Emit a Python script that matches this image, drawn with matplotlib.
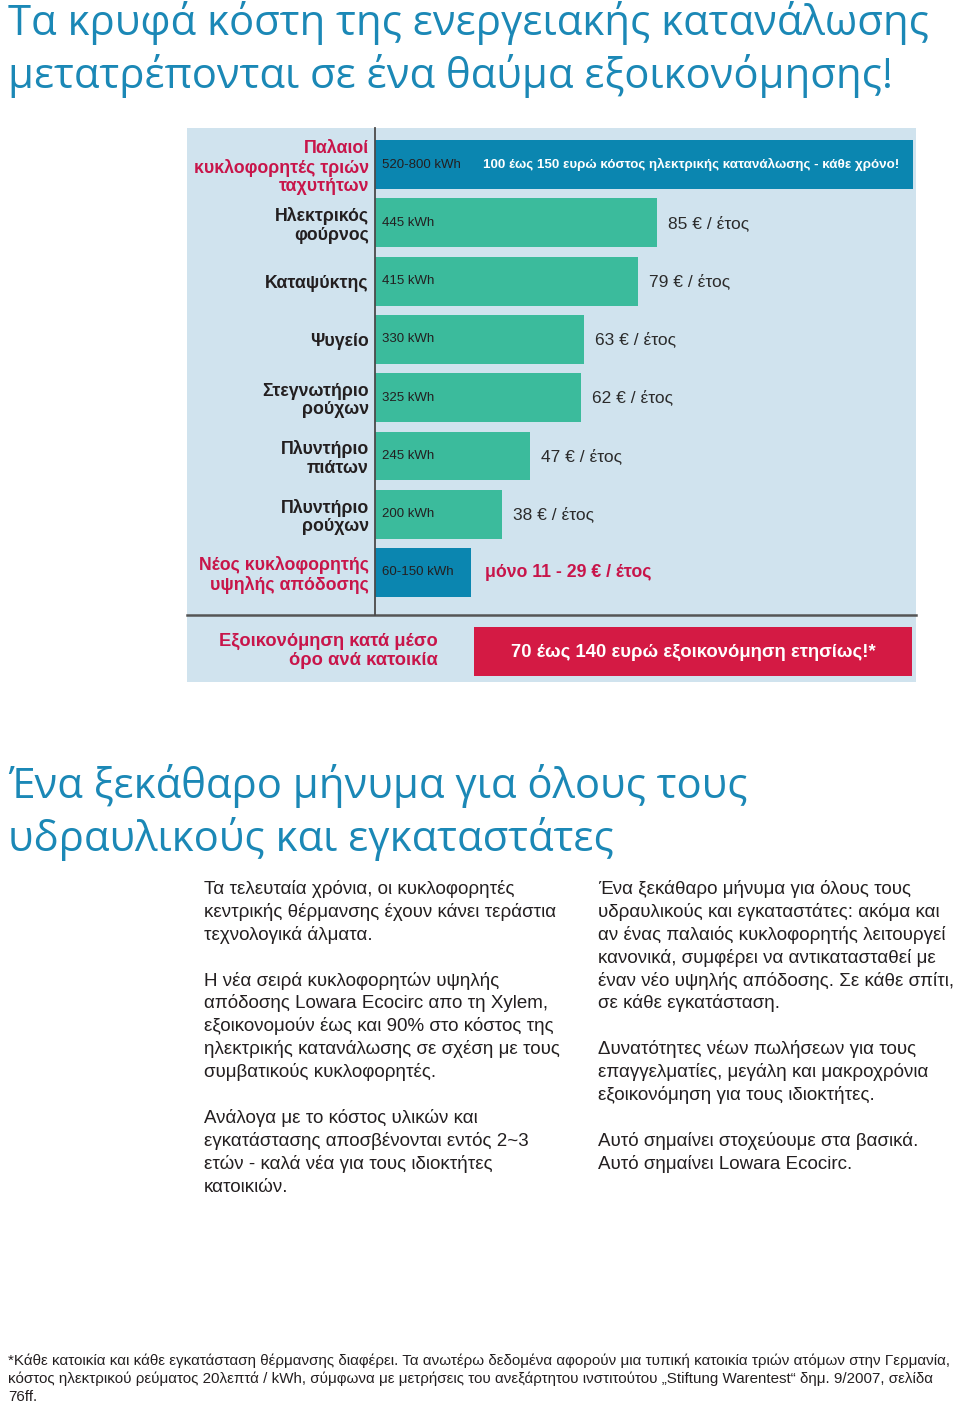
import matplotlib.pyplot as plt
from matplotlib.patches import Rectangle

# ---------------- data ----------------
appliances = ['Παλαιοί\nκυκλοφορητές τριών\nταχυτήτων', 'Ηλεκτρικός\nφούρνος', 'Καταψύκτης',
              'Ψυγείο', 'Στεγνωτήριο\nρούχων', 'Πλυντήριο\nπιάτων', 'Πλυντήριο\nρούχων',
              'Νέος κυκλοφορητής\nυψηλής απόδοσης']
kwh = [850, 445, 415, 330, 325, 245, 200, 152]
kwh_labels = ['520-800 kWh', '445 kWh', '415 kWh', '330 kWh', '325 kWh', '245 kWh',
              '200 kWh', '60-150 kWh']
cost_labels = ['100 έως 150 ευρώ κόστος ηλεκτρικής κατανάλωσης - κάθε χρόνο!',
               '85 € / έτος', '79 € / έτος', '63 € / έτος', '62 € / έτος',
               '47 € / έτος', '38 € / έτος', 'μόνο 11 - 29 € / έτος']
is_pump = [True, False, False, False, False, False, False, True]

savings_label = 'Εξοικονόμηση κατά μέσο\nόρο ανά κατοικία'
savings_box = '70 έως 140 ευρώ εξοικονόμηση ετησίως!*'

title = ['Τα κρυφά κόστη της ενεργειακής κατανάλωσης',
         'μετατρέπονται σε ένα θαύμα εξοικονόμησης!']
heading = ['Ένα ξεκάθαρο μήνυμα για όλους τους', 'υδραυλικούς και εγκαταστάτες']

col_left = ['Τα τελευταία χρόνια, οι κυκλοφορητές',
            'κεντρικής θέρμανσης έχουν κάνει τεράστια',
            'τεχνολογικά άλματα.',
            '',
            'Η νέα σειρά κυκλοφορητών υψηλής',
            'απόδοσης Lowara Ecocirc απο τη Xylem,',
            'εξοικονομούν έως και 90% στο κόστος της',
            'ηλεκτρικής κατανάλωσης σε σχέση με τους',
            'συμβατικούς κυκλοφορητές.',
            '',
            'Ανάλογα με το κόστος υλικών και',
            'εγκατάστασης αποσβένονται εντός 2~3',
            'ετών - καλά νέα για τους ιδιοκτήτες',
            'κατοικιών.']
col_right = ['Ένα ξεκάθαρο μήνυμα για όλους τους',
             'υδραυλικούς και εγκαταστάτες: ακόμα και',
             'αν ένας παλαιός κυκλοφορητής λειτουργεί',
             'κανονικά, συμφέρει να αντικατασταθεί με',
             'έναν νέο υψηλής απόδοσης. Σε κάθε σπίτι,',
             'σε κάθε εγκατάσταση.',
             '',
             'Δυνατότητες νέων πωλήσεων για τους',
             'επαγγελματίες, μεγάλη και μακροχρόνια',
             'εξοικονόμηση για τους ιδιοκτήτες.',
             '',
             'Αυτό σημαίνει στοχεύουμε στα βασικά.',
             'Αυτό σημαίνει Lowara Ecocirc.']
footnote = ['*Κάθε κατοικία και κάθε εγκατάσταση θέρμανσης διαφέρει. Τα ανωτέρω δεδομένα αφορούν μια τυπική κατοικία τριών ατόμων στην Γερμανία,',
            'κόστος ηλεκτρικού ρεύματος 20λεπτά / kWh, σύμφωνα με μετρήσεις του ανεξάρτητου ινστιτούτου „Stiftung Warentest“ δημ. 9/2007, σελίδα',
            '76ff.']

# ---------------- colours ----------------
teal = '#3bbb9c'
blue = '#0b86b0'
crimson = '#c8154a'
red_box = '#d41a44'
panel = '#d0e3ee'
title_blue = '#1b88b6'
dark = '#231f20'

plt.rcParams['font.family'] = ['Liberation Sans', 'DejaVu Sans']

fig = plt.figure(figsize=(9.6, 14.05), dpi=100)

# background axes in pixel coordinates
bg = fig.add_axes([0, 0, 1, 1])
bg.set_xlim(0, 960)
bg.set_ylim(1405, 0)
bg.axis('off')

bg.add_patch(Rectangle((187, 128), 729, 554, facecolor=panel, edgecolor='none'))
bg.plot([187, 916], [615, 615], color='#555555', lw=1.8)
bg.add_patch(Rectangle((474, 627), 438, 49, facecolor=red_box, edgecolor='none'))
bg.text(693, 652, savings_box, color='white', fontsize=13.3, fontweight='bold',
        ha='center', va='center')
bg.text(438, 651, savings_label, color=crimson, fontsize=13.2, fontweight='bold',
        ha='right', va='center', multialignment='right', linespacing=1.12)

for i, line in enumerate(title):
    bg.text(8, 35 + i * 53, line, color=title_blue, fontsize=30.2,
            family=['Open Sans', 'DejaVu Sans'], ha='left', va='baseline')
for i, line in enumerate(heading):
    bg.text(8, 798 + i * 53, line, color=title_blue, fontsize=30.2,
            family=['Open Sans', 'DejaVu Sans'], ha='left', va='baseline')

for i, line in enumerate(col_left):
    bg.text(204, 894 + i * 22.9, line, color=dark, fontsize=13.5, va='baseline')
for i, line in enumerate(col_right):
    bg.text(598, 894 + i * 22.9, line, color=dark, fontsize=13.5, va='baseline')
for i, line in enumerate(footnote):
    bg.text(8, 1365 + i * 18, line, color=dark, fontsize=10.9, va='baseline')

# bar chart axes
ax = fig.add_axes([375 / 960, 1 - 615 / 1405, 541 / 960, 487 / 1405])
ax.set_facecolor('none')
rows = list(range(len(appliances)))
colors = [blue if p else teal for p in is_pump]
ax.barh(rows, kwh, height=0.84, color=colors)
ax.set_xlim(0, 855)
ax.set_ylim(7.73, -0.63)

for s in ['top', 'right', 'bottom']:
    ax.spines[s].set_visible(False)
ax.spines['left'].set_color('#4a4a4a')
ax.spines['left'].set_linewidth(1.3)
ax.set_xticks([])
ax.set_yticks(rows)
ax.set_yticklabels(appliances, fontsize=12.8, fontweight='bold')
ax.tick_params(axis='y', length=0, pad=4.5)
for lbl, p in zip(ax.get_yticklabels(), is_pump):
    lbl.set_color(crimson if p else dark)
    lbl.set_multialignment('right')
    lbl.set_linespacing(1.12)

for i in rows:
    ax.annotate(kwh_labels[i], xy=(0, i), xytext=(5, 0), textcoords='offset points',
                ha='left', va='center', fontsize=9.5, color=dark)
    if i == 0:
        ax.annotate(cost_labels[i], xy=(0, i), xytext=(78, 0), textcoords='offset points',
                    ha='left', va='center', fontsize=9.65, fontweight='bold', color='white')
    elif is_pump[i]:
        ax.annotate(cost_labels[i], xy=(kwh[i], i), xytext=(10, 0), textcoords='offset points',
                    ha='left', va='center', fontsize=12.8, fontweight='bold', color=crimson)
    else:
        ax.annotate(cost_labels[i], xy=(kwh[i], i), xytext=(8, 0), textcoords='offset points',
                    ha='left', va='center', fontsize=12.5, color='#2b2b2b')

fig.savefig('out.png', dpi=100)
